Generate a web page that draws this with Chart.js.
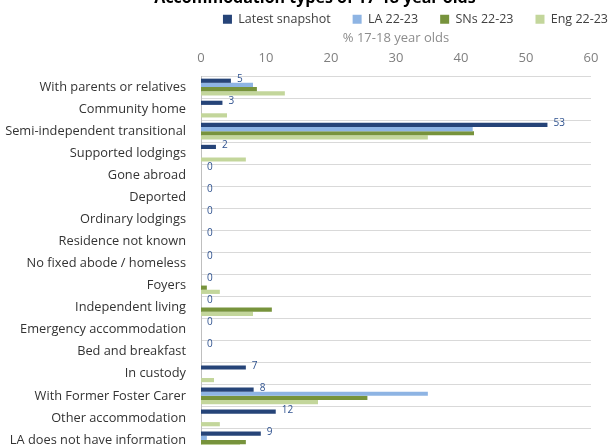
<!DOCTYPE html>
<html>
<head>
<meta charset="utf-8">
<script src="https://cdn.jsdelivr.net/npm/chart.js@4"></script>
<style>
  html, body { margin: 0; padding: 0; background: #fff; overflow: hidden; }
  #wrap { position: absolute; left: 0; top: -12px; width: 630px; height: 463px; }
</style>
</head>
<body>
<div id="wrap"><canvas id="grafico" width="630" height="463"></canvas></div>
<script>
// categories (top to bottom)
const categorias = [
  'With parents or relatives',
  'Community home',
  'Semi-independent transitional',
  'Supported lodgings',
  'Gone abroad',
  'Deported',
  'Ordinary lodgings',
  'Residence not known',
  'No fixed abode / homeless',
  'Foyers',
  'Independent living',
  'Emergency accommodation',
  'Bed and breakfast',
  'In custody',
  'With Former Foster Carer',
  'Other accommodation',
  'LA does not have information'
];

// % of 17-18 year olds
const ultimoSnapshot = [4.6, 3.3, 53.3, 2.3, 0, 0, 0, 0, 0, 0, 0, 0, 0, 6.9, 8.1, 11.5, 9.2];
const la2223 = [8.0, 0, 41.8, 0, 0, 0, 0, 0, 0, 0, 0, 0, 0, 0, 34.9, 0, 0.9];
const sns2223 = [8.6, 0, 42.0, 0, 0, 0, 0, 0, 0, 0.9, 10.9, 0, 0, 0, 25.6, 0, 6.9];
const eng2223 = [12.9, 4.0, 34.9, 6.9, 0, 0, 0, 0, 0, 2.9, 8.0, 0, 0, 2.0, 18.0, 2.9, 6.0];

const nomesSeries = ['Latest snapshot', 'LA 22-23', 'SNs 22-23', 'Eng 22-23'];
const cores = ['#264478', '#8eb4e3', '#77933c', '#c3d69b'];

const fonte = 'Open Sans';

// number labels next to the "Latest snapshot" bars
const rotulos = {
  id: 'rotulos',
  afterDatasetsDraw(chart) {
    const meta = chart.getDatasetMeta(0);
    const c = chart.ctx;
    c.save();
    c.font = '10px "' + fonte + '"';
    c.fillStyle = '#2f528f';
    c.textBaseline = 'middle';
    meta.data.forEach((bar, i) => {
      c.fillText(String(Math.round(ultimoSnapshot[i])), bar.x + 6, bar.y - 1.5);
    });
    c.restore();
  }
};

const ctx = document.getElementById('grafico').getContext('2d');

new Chart(ctx, {
  type: 'bar',
  data: {
    labels: categorias,
    datasets: [ultimoSnapshot, la2223, sns2223, eng2223].map((d, i) => ({
      label: nomesSeries[i],
      data: d,
      backgroundColor: cores[i],
      borderWidth: 0
    }))
  },
  options: {
    indexAxis: 'y',
    responsive: false,
    animation: false,
    layout: { padding: 0 },
    datasets: { bar: { categoryPercentage: 0.76, barPercentage: 1 } },
    plugins: {
      title: {
        display: true,
        text: 'Accommodation types of 17-18 year olds',
        color: '#000',
        font: { family: fonte, size: 16, weight: 'bold' },
        padding: { top: 1, bottom: -17.3 }
      },
      legend: {
        position: 'top',
        align: 'end',
        labels: {
          boxWidth: 9,
          boxHeight: 9,
          padding: 22,
          color: '#404040',
          font: { family: fonte, size: 12.5 }
        }
      },
      tooltip: { enabled: false }
    },
    scales: {
      x: {
        position: 'top',
        min: 0,
        max: 60,
        ticks: { stepSize: 10, padding: 10, color: '#7f7f7f', font: { family: fonte, size: 13 } },
        grid: { display: false, drawTicks: false },
        border: { display: false },
        title: {
          display: true,
          text: '% 17-18 year olds',
          color: '#8c8c8c',
          font: { family: fonte, size: 13 },
          padding: { top: -4.5, bottom: 0 }
        },
        // chart area should start at y = 86 on the canvas
        afterFit(s) { s.height = 40.6; }
      },
      y: {
        ticks: { padding: 15, color: '#333333', autoSkip: false, font: { family: fonte, size: 12.8 } },
        grid: { color: '#d9d9d9', drawTicks: false },
        border: { color: '#bfbfbf' },
        afterFit(s) {
          s.width = 201;
          s.paddingTop = 0;
          s.paddingBottom = 0;
        }
      },
      yRight: {
        type: 'linear',
        position: 'right',
        grid: { display: false, drawTicks: false },
        border: { display: false },
        ticks: { display: false },
        afterFit(s) { s.width = 39; }
      }
    }
  },
  plugins: [rotulos]
});
</script>
</body>
</html>
